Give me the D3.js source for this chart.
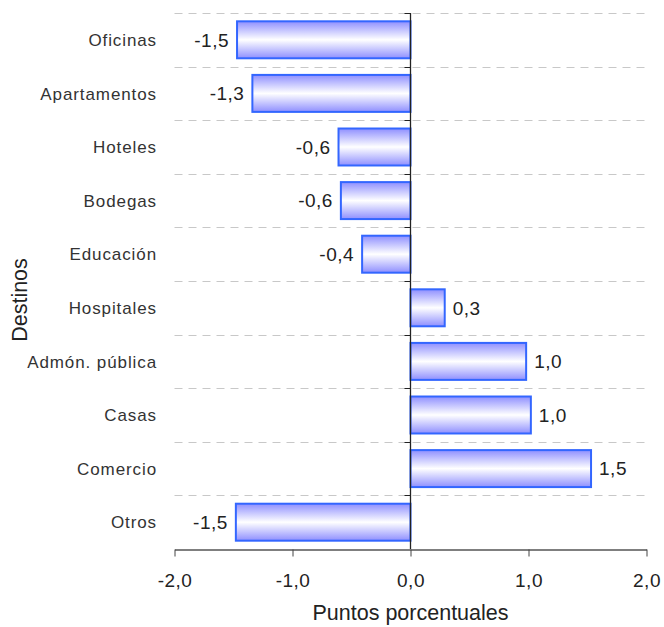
<!DOCTYPE html>
<html><head><meta charset="utf-8">
<script src="https://cdn.jsdelivr.net/npm/d3@7"></script>
<style>body{margin:0;background:#fff}svg{display:block;font-family:"Liberation Sans",Arial,sans-serif}</style>
</head><body><svg id="c" width="664" height="627"></svg>
<script>
const categories = ["Oficinas","Apartamentos","Hoteles","Bodegas","Educación","Hospitales","Admón. pública","Casas","Comercio","Otros"];
const values = [-1.47,-1.34,-0.61,-0.59,-0.41,0.29,0.98,1.02,1.53,-1.48];
const valueLabels = ["-1,5","-1,3","-0,6","-0,6","-0,4","0,3","1,0","1,0","1,5","-1,5"];
const xTicks = [-2,-1,0,1,2];
const xTickLabels = ["-2,0","-1,0","0,0","1,0","2,0"];

const svg = d3.select("#c");
const x = d3.scaleLinear().domain([-2,2]).range([174.5,646.5]);
const y = d3.scaleBand().domain(categories).range([13,549]).paddingInner(0.31).paddingOuter(0.155);

const defs = svg.append("defs");
const g = defs.append("linearGradient").attr("id","bg").attr("x1",0).attr("y1",0).attr("x2",0).attr("y2",1);
g.append("stop").attr("offset","0%").attr("stop-color","#8f8fff");
g.append("stop").attr("offset","50%").attr("stop-color","#ffffff");
g.append("stop").attr("offset","100%").attr("stop-color","#8f8fff");

const step = y.step();
const bounds = d3.range(categories.length).map(i => 13 + i*step);
svg.append("g").selectAll("line").data(bounds).join("line")
  .attr("x1",174.5).attr("x2",646.5).attr("y1",d=>Math.round(d)+0.5).attr("y2",d=>Math.round(d)+0.5)
  .attr("stroke","#c8c8c8").attr("stroke-dasharray","8,6");

svg.append("g").selectAll("rect").data(categories).join("rect")
  .attr("x",(d,i)=>x(Math.min(0,values[i])))
  .attr("width",(d,i)=>Math.abs(x(values[i])-x(0)))
  .attr("y",d=>y(d)).attr("height",y.bandwidth())
  .attr("fill","url(#bg)").attr("stroke","#3366ff").attr("stroke-width",2);

svg.append("g").selectAll("text").data(categories).join("text")
  .attr("x",(d,i)=>values[i]<0 ? x(values[i])-8 : x(values[i])+8)
  .attr("y",d=>y(d)+y.bandwidth()/2).attr("dy","0.36em")
  .attr("text-anchor",(d,i)=>values[i]<0?"end":"start")
  .attr("font-size",19).attr("fill","#222").attr("letter-spacing","0.5px")
  .text((d,i)=>valueLabels[i]);

const za = svg.append("g");
za.append("line").attr("x1",x(0)).attr("x2",x(0)).attr("y1",13).attr("y2",549).attr("stroke","#222").attr("stroke-width",1.3);
za.selectAll("line.t").data(bounds).join("line").attr("class","t")
  .attr("x1",x(0)-6).attr("x2",x(0)).attr("y1",d=>Math.round(d)+0.5).attr("y2",d=>Math.round(d)+0.5)
  .attr("stroke","#222");

svg.append("g").selectAll("text").data(categories).join("text")
  .attr("x",157).attr("y",d=>y(d)+y.bandwidth()/2).attr("dy","0.36em")
  .attr("text-anchor","end").attr("font-size",17).attr("fill","#333").attr("letter-spacing","0.9px")
  .text(d=>d);

const xa = d3.axisBottom(x).tickValues(xTicks).tickFormat((d,i)=>xTickLabels[i]).tickSize(7).tickSizeOuter(0);
const ax = svg.append("g").attr("transform","translate(0,549.5)").call(xa);
ax.select(".domain").attr("stroke","#555").attr("stroke-width",1.5);
ax.selectAll(".tick line").attr("stroke","#444");
ax.selectAll(".tick text").attr("font-size",19).attr("fill","#222").attr("y",31).attr("dy","0.36em").attr("letter-spacing","0.5px").attr("font-family","Liberation Sans, Arial, sans-serif");

svg.append("text").attr("x",x(0)).attr("y",620).attr("text-anchor","middle").attr("font-size",21.5).attr("fill","#222").text("Puntos porcentuales");
svg.append("text").attr("transform","translate(27,300) rotate(-90)").attr("text-anchor","middle").attr("font-size",21.5).attr("fill","#222").text("Destinos");
</script></body></html>
